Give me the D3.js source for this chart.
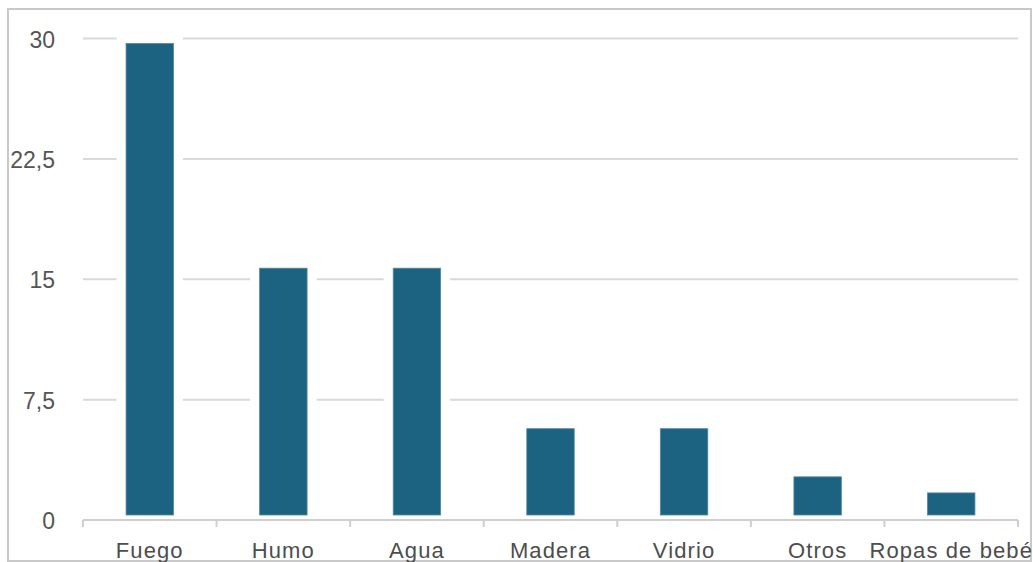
<!DOCTYPE html>
<html>
<head>
<meta charset="utf-8">
<script src="https://cdn.jsdelivr.net/npm/d3@7"></script>
<style>
  html, body { margin: 0; padding: 0; background: #fff; }
  svg { display: block; }
</style>
</head>
<body>
<svg id="chart" width="1033" height="562"></svg>
<script>
// Categories and their counts
const categories = ["Fuego", "Humo", "Agua", "Madera", "Vidrio", "Otros", "Ropas de bebé"];
const values = [30, 16, 16, 6, 6, 3, 2];
// Y axis ticks and their displayed labels (decimal comma)
const yTicks = [0, 7.5, 15, 22.5, 30];
const yTickLabels = ["0", "7,5", "15", "22,5", "30"];

const svg = d3.select("#chart");

const plot = { left: 83, right: 1018, top: 38.5, bottom: 520 };

const x = d3.scaleBand()
  .domain(categories)
  .range([plot.left, plot.right])
  .paddingInner(0.57)
  .paddingOuter(0.285);

const y = d3.scaleLinear()
  .domain([0, 30])
  .range([plot.bottom, plot.top]);

// Outer frame
svg.append("rect")
  .attr("x", 8).attr("y", 9)
  .attr("width", 1023).attr("height", 552)
  .attr("fill", "none")
  .attr("stroke", "#c9c9c9")
  .attr("stroke-width", 2);

// Horizontal gridlines (not at zero, which is the baseline)
svg.append("g")
  .selectAll("line")
  .data(yTicks.filter(d => d > 0))
  .join("line")
  .attr("x1", plot.left).attr("x2", plot.right)
  .attr("y1", d => y(d)).attr("y2", d => y(d))
  .attr("stroke", "#d9d9d9")
  .attr("stroke-width", 2);

// Bars with a white outline that separates them from the gridlines
const bars = svg.append("g");
bars.selectAll("rect.halo")
  .data(values)
  .join("rect")
  .attr("class", "halo")
  .attr("x", (d, i) => x(categories[i]))
  .attr("y", d => y(d))
  .attr("width", x.bandwidth())
  .attr("height", d => y(0) - y(d))
  .attr("fill", "#fff")
  .attr("stroke", "#fff")
  .attr("stroke-width", 9);

const inset = 5;
bars.selectAll("rect.bar")
  .data(values)
  .join("rect")
  .attr("class", "bar")
  .attr("x", (d, i) => x(categories[i]) + inset)
  .attr("y", d => y(d) + inset)
  .attr("width", x.bandwidth() - 2 * inset)
  .attr("height", d => y(0) - y(d) - 2 * inset)
  .attr("fill", "#1c6381")
  .attr("stroke", "#4f88a3")
  .attr("stroke-width", 0.8);

// Baseline with tick marks at band boundaries
const axisG = svg.append("g");
axisG.append("line")
  .attr("x1", plot.left).attr("x2", plot.right)
  .attr("y1", y(0)).attr("y2", y(0))
  .attr("stroke", "#cfcfcf")
  .attr("stroke-width", 2);

const boundaries = categories.map(c => x(c) - x.step() * x.paddingOuter()).concat([plot.right]);
axisG.selectAll("line.tick")
  .data(boundaries)
  .join("line")
  .attr("class", "tick")
  .attr("x1", d => d).attr("x2", d => d)
  .attr("y1", y(0)).attr("y2", y(0) + 7)
  .attr("stroke", "#cfcfcf")
  .attr("stroke-width", 2);

// Y tick labels
svg.append("g")
  .selectAll("text")
  .data(yTicks)
  .join("text")
  .attr("x", 55)
  .attr("y", d => y(d) + 9)
  .attr("text-anchor", "end")
  .attr("font-family", "'Liberation Sans', Arial, sans-serif")
  .attr("font-size", 23)
  .attr("fill", "#555")
  .text((d, i) => yTickLabels[i]);

// Category labels
svg.append("g")
  .selectAll("text")
  .data(categories)
  .join("text")
  .attr("x", d => x(d) + x.bandwidth() / 2)
  .attr("y", 557.5)
  .attr("text-anchor", "middle")
  .attr("font-family", "'Liberation Sans', Arial, sans-serif")
  .attr("font-size", 22)
  .attr("letter-spacing", 1.1)
  .attr("fill", "#4d4d4d")
  .text(d => d);
</script>
</body>
</html>
